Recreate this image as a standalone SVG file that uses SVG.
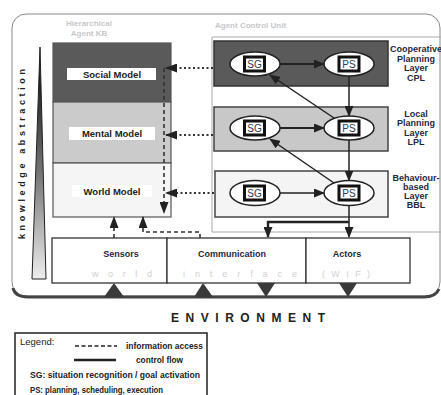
<svg xmlns="http://www.w3.org/2000/svg" width="441" height="395" viewBox="0 0 441 395">
  <style>
    .lbl { font-family: "Liberation Sans", Arial, sans-serif; font-weight: bold; font-size: 9px; fill: #1f2840; text-anchor: middle; }
    .ghost { font-family: "Liberation Sans", Arial, sans-serif; font-weight: bold; font-size: 8px; fill: #c8c8c8; }
    .mdl { font-family: "Liberation Sans", Arial, sans-serif; font-weight: bold; font-size: 9.5px; fill: #222; text-anchor: middle; }
    .sub { font-family: "Liberation Sans", Arial, sans-serif; font-size: 9px; fill: #d0d0d0; }
    .leg { font-family: "Liberation Sans", Arial, sans-serif; font-weight: bold; font-size: 8.5px; fill: #222; }
    .ell { fill: #fff; stroke: #222; stroke-width: 1.5; }
    .sq { fill: #111; }
    .sqi { fill: #fff; }
    .sgt { font-family: "Liberation Sans", Arial, sans-serif; font-size: 10px; fill: #2f3b55; text-anchor: middle; }
    .ctl { stroke: #222; stroke-width: 2.2; fill: none; }
    .ctlt { stroke: #222; stroke-width: 1.5; fill: none; }
    .dot { stroke: #333; stroke-width: 2; stroke-dasharray: 2 2.5; fill: none; }
    .dash { stroke: #333; stroke-width: 1.6; stroke-dasharray: 4 3; fill: none; }
    .tri { fill: #3a3a3a; }
  </style>
  <defs>
    <marker id="ah" markerUnits="userSpaceOnUse" markerWidth="11" markerHeight="9" refX="10" refY="4.5" orient="auto">
      <path d="M0,0 L11,4.5 L0,9 z" fill="#222"/>
    </marker>
    <marker id="ahd" markerUnits="userSpaceOnUse" markerWidth="12" markerHeight="9" refX="11" refY="4.5" orient="auto">
      <path d="M0,0 L12,4.5 L0,9 z" fill="#222"/>
    </marker>
    <linearGradient id="cone" x1="0" y1="0" x2="0" y2="1">
      <stop offset="0" stop-color="#000"/>
      <stop offset="0.55" stop-color="#777"/>
      <stop offset="1" stop-color="#eee"/>
    </linearGradient>
  </defs>

  <!-- agent frame -->
  <rect x="12" y="14" width="428" height="282" rx="14" fill="#fff" stroke="#888" stroke-width="1"/>
  <path d="M13,288 Q15,297 28,297 H424 Q436,297 439,289" fill="none" stroke="#444" stroke-width="3"/>

  <!-- knowledge abstraction cone -->
  <g id="abstraction">
    <polygon points="40,47 32,279 46,279" fill="url(#cone)" stroke="#222" stroke-width="1"/>
    <text x="0" y="0" transform="translate(25,239) rotate(-90)" font-family="Liberation Sans, Arial, sans-serif" font-weight="bold" font-size="9" fill="#222" textLength="170" lengthAdjust="spacing">knowledge abstraction</text>
  </g>

  <!-- section captions -->
  <text class="ghost" x="89" y="26" text-anchor="middle">Hierarchical</text>
  <text class="ghost" x="89" y="36" text-anchor="middle">Agent KB</text>
  <text class="ghost" x="215" y="28">Agent Control Unit</text>

  <!-- agent control unit frame -->
  <path d="M445,37 H212 V232 H445" fill="none" stroke="#aaa" stroke-width="1"/>

  <!-- knowledge base -->
  <g id="social-model">
    <rect x="53" y="43" width="118" height="59" fill="#5a5a5a" stroke="#555" stroke-width="1.2"/>
    <rect x="67" y="68" width="89" height="12" fill="#fff"/>
    <text class="mdl" x="112" y="77.5">Social Model</text>
  </g>
  <g id="mental-model">
    <rect x="53" y="102" width="118" height="61" fill="#cbcbcb" stroke="#555" stroke-width="1.2"/>
    <rect x="69" y="127" width="86" height="13" fill="#fff"/>
    <text class="mdl" x="112" y="137">Mental Model</text>
  </g>
  <g id="world-model">
    <rect x="53" y="163" width="118" height="54" fill="#f5f5f5" stroke="#555" stroke-width="1.2"/>
    <rect x="72" y="185" width="80" height="12" fill="#fff"/>
    <text class="mdl" x="112" y="194.5">World Model</text>
  </g>

  <!-- cooperative planning layer -->
  <g id="cpl">
    <rect x="214" y="41" width="174" height="45" fill="#5a5a5a" stroke="#333" stroke-width="1.5"/>
    <ellipse class="ell" cx="255" cy="64" rx="25" ry="12"/>
    <rect class="sq" x="243" y="55.5" width="23" height="17"/>
    <rect class="sqi" x="246" y="58.5" width="17" height="11"/>
    <text class="sgt" x="254.5" y="68">SG</text>
    <ellipse class="ell" cx="349" cy="64" rx="25" ry="12"/>
    <rect class="sq" x="337.5" y="55.5" width="23" height="17"/>
    <rect class="sqi" x="340.5" y="58.5" width="17" height="11"/>
    <text class="sgt" x="349" y="68">PS</text>
    <text class="lbl" x="416" y="52">Cooperative</text>
    <text class="lbl" x="416" y="61.5">Planning</text>
    <text class="lbl" x="416" y="71">Layer</text>
    <text class="lbl" x="416" y="80.5">CPL</text>
  </g>

  <!-- local planning layer -->
  <g id="lpl">
    <rect x="214" y="107" width="174" height="44" fill="#c8c8c8" stroke="#444" stroke-width="1.5"/>
    <ellipse class="ell" cx="255" cy="128" rx="25" ry="12"/>
    <rect class="sq" x="243" y="119.5" width="23" height="17"/>
    <rect class="sqi" x="246" y="122.5" width="17" height="11"/>
    <text class="sgt" x="254.5" y="132">SG</text>
    <ellipse class="ell" cx="349" cy="128" rx="25" ry="12"/>
    <rect class="sq" x="337.5" y="119.5" width="23" height="17"/>
    <rect class="sqi" x="340.5" y="122.5" width="17" height="11"/>
    <text class="sgt" x="349" y="132">PS</text>
    <text class="lbl" x="416" y="116.5">Local</text>
    <text class="lbl" x="416" y="126">Planning</text>
    <text class="lbl" x="416" y="135.5">Layer</text>
    <text class="lbl" x="416" y="145">LPL</text>
  </g>

  <!-- behaviour-based layer -->
  <g id="bbl">
    <rect x="215" y="171" width="173" height="46" fill="#f4f4f4" stroke="#444" stroke-width="1.5"/>
    <ellipse class="ell" cx="255" cy="193" rx="25" ry="12.5"/>
    <rect class="sq" x="243" y="184.5" width="23" height="17"/>
    <rect class="sqi" x="246" y="187.5" width="17" height="11"/>
    <text class="sgt" x="254.5" y="197">SG</text>
    <ellipse class="ell" cx="349" cy="193" rx="25" ry="12.5"/>
    <rect class="sq" x="337.5" y="184.5" width="23" height="17"/>
    <rect class="sqi" x="340.5" y="187.5" width="17" height="11"/>
    <text class="sgt" x="349" y="197">PS</text>
    <text class="lbl" x="416" y="180.5">Behaviour-</text>
    <text class="lbl" x="416" y="189.5">based</text>
    <text class="lbl" x="416" y="198.5">Layer</text>
    <text class="lbl" x="416" y="207.5">BBL</text>
  </g>

  <!-- world interface -->
  <g id="sensors">
    <rect x="52" y="238" width="115" height="45" fill="#fff" stroke="#333" stroke-width="1.3"/>
    <text class="lbl" x="121" y="257">Sensors</text>
    <text class="sub" x="92" y="277" textLength="60" lengthAdjust="spacing">world</text>
  </g>
  <g id="communication">
    <rect x="167" y="238" width="139" height="45" fill="#fff" stroke="#333" stroke-width="1.3"/>
    <text class="lbl" x="232" y="257">Communication</text>
    <text class="sub" x="183" y="277" textLength="114" lengthAdjust="spacing">interface</text>
  </g>
  <g id="actors">
    <rect x="306" y="238" width="104" height="45" fill="#fff" stroke="#333" stroke-width="1.3"/>
    <text class="lbl" x="347" y="257">Actors</text>
    <text class="sub" x="322" y="277" textLength="48" lengthAdjust="spacing">(WIF)</text>
  </g>

  <!-- environment ports -->
  <g id="ports">
    <polygon class="tri" points="114,283 104,297 124,297"/>
    <polygon class="tri" points="203,283 194,297 213,297"/>
    <polygon class="tri" points="257,283 275,283 266,297"/>
    <polygon class="tri" points="339,283 357,283 348,297"/>
  </g>

  <text x="171" y="322" font-family="Liberation Sans, Arial, sans-serif" font-weight="bold" font-size="12" fill="#222" textLength="154" lengthAdjust="spacing">ENVIRONMENT</text>

  <!-- connectors -->
  <g id="connectors">
    <!-- control flow -->
    <line class="ctl" x1="280" y1="64" x2="324" y2="64" marker-end="url(#ah)"/>
    <line class="ctlt" x1="349" y1="76" x2="349" y2="116" marker-end="url(#ah)"/>
    <line class="ctlt" x1="334" y1="118" x2="270" y2="75" marker-end="url(#ah)"/>
    <line class="ctl" x1="280" y1="128" x2="324" y2="128" marker-end="url(#ah)"/>
    <line class="ctlt" x1="349" y1="140" x2="349" y2="180.5" marker-end="url(#ah)"/>
    <line class="ctlt" x1="334" y1="183" x2="270" y2="139" marker-end="url(#ah)"/>
    <line class="ctlt" x1="280" y1="193" x2="324" y2="193" marker-end="url(#ah)"/>
    <line class="ctlt" x1="349" y1="205.5" x2="349" y2="237" marker-end="url(#ah)"/>
    <polyline points="349,222 268,222 268,237" fill="none" stroke="#222" stroke-width="2.4" marker-end="url(#ah)"/>

    <!-- information access -->
    <line class="dot" x1="213" y1="68" x2="166" y2="68" marker-end="url(#ahd)"/>
    <line class="dot" x1="213" y1="135" x2="166" y2="135" marker-end="url(#ahd)"/>
    <line class="dot" x1="214" y1="193" x2="166" y2="193" marker-end="url(#ahd)"/>
    <line class="dash" x1="164" y1="68" x2="164" y2="213" marker-end="url(#ahd)"/>
    <line class="dash" x1="114" y1="238" x2="114" y2="217" marker-end="url(#ahd)"/>
    <polyline class="dash" points="200,238 200,232 143,232 143,217" marker-end="url(#ahd)"/>
  </g>

  <!-- legend -->
  <g id="legend">
    <rect x="15" y="333" width="192" height="70" fill="#fff" stroke="#222" stroke-width="1.5"/>
    <text x="20" y="345" font-family="Liberation Sans, Arial, sans-serif" font-size="9.5" fill="#222">Legend:</text>
    <line x1="75" y1="346" x2="117" y2="346" stroke="#222" stroke-width="1.5" stroke-dasharray="4 2.5"/>
    <text class="leg" x="126" y="348.5" textLength="77" lengthAdjust="spacingAndGlyphs">information access</text>
    <line x1="74" y1="360" x2="116" y2="360" stroke="#222" stroke-width="2.5"/>
    <text class="leg" x="136" y="363" textLength="47" lengthAdjust="spacingAndGlyphs">control flow</text>
    <text class="leg" x="30" y="378" textLength="170" lengthAdjust="spacingAndGlyphs">SG:  situation recognition / goal activation</text>
    <text class="leg" x="30" y="393" textLength="133" lengthAdjust="spacingAndGlyphs">PS:  planning, scheduling, execution</text>
  </g>
</svg>
